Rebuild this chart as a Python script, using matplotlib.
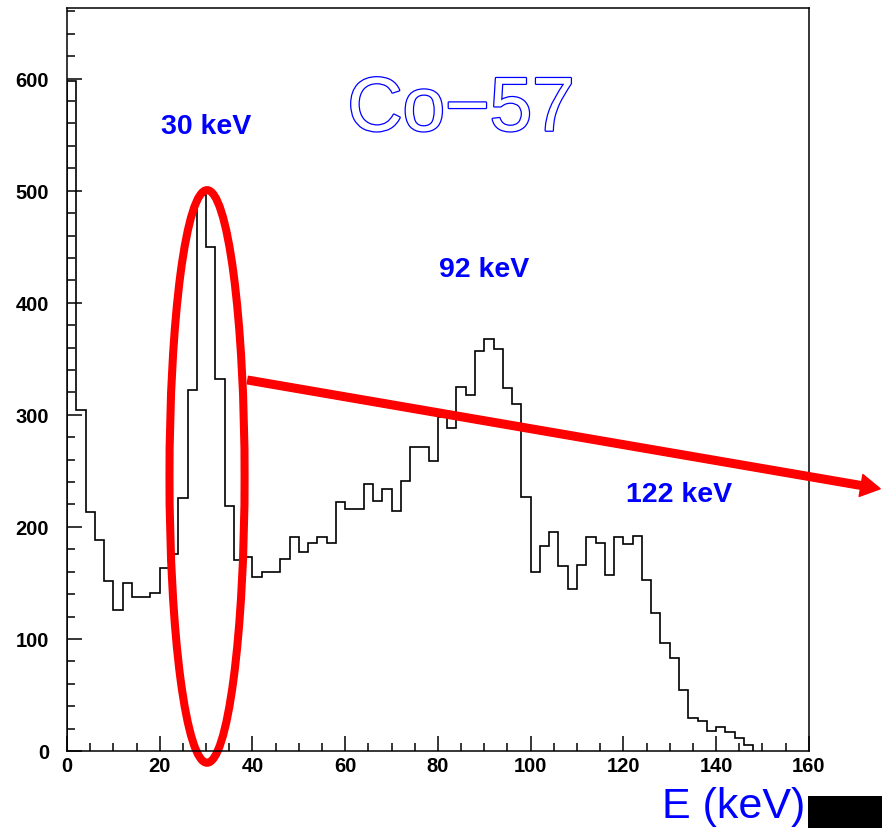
import matplotlib.pyplot as plt
import numpy as np
from matplotlib.patches import Ellipse, Rectangle
import matplotlib.patheffects as pe

plt.rcParams['font.family'] = ['Liberation Sans', 'DejaVu Sans']

# Co-57 spectrum, 2 keV bins starting at 0
bin_width = 2
counts = [598, 304, 213, 188, 152, 126, 150, 137, 137, 141,
          163, 176, 226, 322, 496, 450, 332, 219, 170, 173,
          155, 160, 160, 171, 191, 178, 186, 191, 186, 222,
          216, 216, 238, 223, 234, 214, 241, 271, 271, 259,
          298, 288, 325, 318, 357, 368, 359, 324, 310, 227,
          160, 183, 195, 165, 145, 166, 191, 186, 157, 191,
          185, 192, 153, 123, 96, 83, 54, 29, 27, 18,
          21, 17, 12, 5]
edges = np.arange(len(counts) + 1) * bin_width

peak_labels = ['30 keV', '92 keV', '122 keV']
peak_x = [30, 90, 132]
peak_y = [558, 430, 229]

blue = '#0000ff'
red = '#ff0000'

fig = plt.figure(figsize=(8.82, 8.29), dpi=100)
ax = fig.add_axes([0.076, 0.0929, 0.841, 0.8962])

ax.stairs(counts, edges, color='black', lw=1.2, baseline=0)

ax.set_xlim(0, 160)
ax.set_ylim(0, 663)
ax.set_xticks(np.arange(0, 161, 20))
ax.set_xticks(np.arange(0, 161, 5), minor=True)
ax.set_yticks(np.arange(0, 601, 100))
ax.set_yticks(np.arange(0, 661, 20), minor=True)
ax.tick_params(which='both', direction='in', top=False, right=False, width=1.1)
ax.tick_params(which='major', length=10.5, labelsize=14.5)
ax.tick_params(which='minor', length=6)
ax.tick_params(axis='x', which='major', pad=3.5)
ax.tick_params(axis='y', which='major', pad=13)
for lbl in ax.get_xticklabels() + ax.get_yticklabels():
    lbl.set_fontweight('bold')
for sp in ax.spines.values():
    sp.set_linewidth(1.1)

for txt, xx, yy in zip(peak_labels, peak_x, peak_y):
    ax.text(xx, yy, txt, color=blue, fontsize=20.5, fontweight='bold',
            ha='center', va='center')

ax.text(85, 571, 'Co\u221257', color='white', fontsize=55, ha='center', va='center',
        path_effects=[pe.withStroke(linewidth=1.8, foreground=blue)])

ax.set_xlabel('E (keV)', color=blue, fontsize=31, ha='right', va='baseline')
ax.xaxis.set_label_coords(0.9946, -0.0888)

# highlight of the 30 keV peak and arrow
ell = Ellipse((30.2, 245), 16.2, 511, fill=False, edgecolor=red, lw=5.8, clip_on=False)
ax.add_patch(ell)
ax.annotate('', xy=(175.4, 234), xytext=(39.0, 331), annotation_clip=False,
            arrowprops=dict(facecolor=red, edgecolor=red, width=5.5,
                            headwidth=16, headlength=14, shrink=0))

fig.patches.append(Rectangle((0.916, 0), 0.084, 0.0386, transform=fig.transFigure,
                             facecolor='black', edgecolor='none'))

fig.savefig('out.png', dpi=100)
